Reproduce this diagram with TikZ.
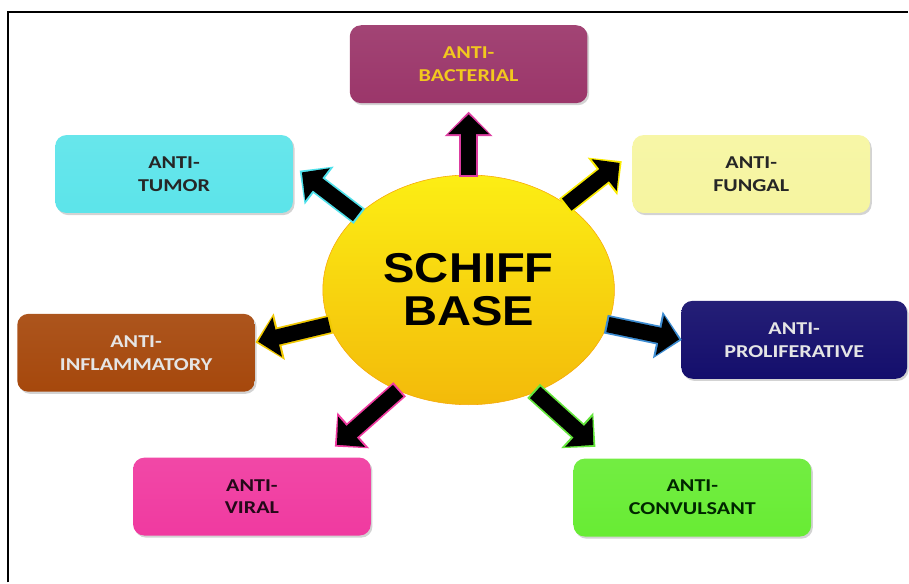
\documentclass[tikz,border=0pt]{standalone}
\usepackage{fontspec}
\usepackage{tikz}
\usetikzlibrary{arrows.meta,shapes,shadows,calc}
\newfontfamily\kastenfont[FakeStretch=1.22]{Carlito}
\newfontfamily\kreisfont[FakeStretch=1.13]{Liberation Sans}
\definecolor{pflaume}{RGB}{155,54,106}
\definecolor{tuerkis}{RGB}{92,228,234}
\definecolor{gelbHell}{RGB}{246,245,160}
\definecolor{braun}{RGB}{166,72,12}
\definecolor{marine}{RGB}{20,14,108}
\definecolor{rosa}{RGB}{240,58,160}
\definecolor{gruenHell}{RGB}{104,236,52}
\definecolor{goldText}{RGB}{242,200,30}
\definecolor{kreisOben}{RGB}{252,238,20}
\definecolor{kreisUnten}{RGB}{243,186,10}
\definecolor{magentaRand}{RGB}{220,60,160}
\definecolor{cyanRand}{RGB}{80,225,235}
\definecolor{gelbRand}{RGB}{250,235,0}
\definecolor{goldRand}{RGB}{240,200,0}
\definecolor{blauRand}{RGB}{60,140,210}
\definecolor{gruenRand}{RGB}{100,230,60}
\tikzstyle{kasten} = [rectangle,rounded corners=8pt,minimum width=5.95cm,minimum height=1.95cm,align=center,font=\kastenfont\bfseries\fontsize{12.9}{16.3}\selectfont,drop shadow={shadow xshift=1.2pt,shadow yshift=-1.5pt,opacity=0.35}]
\tikzset{pfeil/.style 2 args={draw=black,line width=11pt,-{Triangle[length=14pt,width=28pt]},shorten >=#2,preaction={draw=#1,line width=13.5pt,-{Triangle[length=17.5pt,width=33pt]},shorten >=#2-2pt,shorten <=-1.5pt}}}

\begin{document}
\begin{tikzpicture}
\draw[white] (0,0) rectangle (22.725,14.575);
\draw[line width=1.4pt] (0.200,0.000) -- (0.200,14.275) -- (22.725,14.275);
\node[kasten,top color=pflaume!93!white,bottom color=pflaume,text=goldText] (bakt) at (11.725,12.975) {ANTI-\\BACTERIAL};
\node[kasten,top color=tuerkis!93!white,bottom color=tuerkis,text=black!85] (tumor) at (4.350,10.225) {ANTI-\\TUMOR};
\node[kasten,top color=gelbHell!93!white,bottom color=gelbHell,text=black!85] (pilz) at (18.800,10.225) {ANTI-\\FUNGAL};
\node[kasten,top color=braun!93!white,bottom color=braun,text=white!90!black] (entz) at (3.400,5.750) {ANTI-\\INFLAMMATORY};
\node[kasten,minimum width=5.65cm,top color=marine!93!white,bottom color=marine,text=white!90!black] (prolif) at (19.875,6.075) {ANTI-\\PROLIFERATIVE};
\node[kasten,top color=rosa!93!white,bottom color=rosa,text=black!85!rosa] (viral) at (6.300,2.150) {ANTI-\\VIRAL};
\node[kasten,top color=gruenHell!93!white,bottom color=gruenHell,text=black!85!green] (konv) at (17.325,2.125) {ANTI-\\CONVULSANT};
\node[ellipse,minimum width=7.3cm,minimum height=5.75cm,inner sep=0pt,top color=kreisOben,bottom color=kreisUnten,draw=kreisUnten!70!orange,thin,align=center,font=\kreisfont\bfseries\fontsize{29.7}{30.5}\selectfont] (schiff) at (11.725,7.325) {SCHIFF\\BASE};
\draw[pfeil={magentaRand}{0.275cm}] (schiff.north) -- (bakt.south);
\draw[pfeil={cyanRand}{0.275cm}] (schiff.146) -- (tumor.4);
\draw[pfeil={gelbRand}{0.4cm}] (schiff.41) -- (pilz.170);
\draw[pfeil={goldRand}{0.075cm}] (schiff.194) -- (entz.5);
\draw[pfeil={blauRand}{0.05cm}] (schiff.346) -- (prolif.west);
\draw[pfeil={rosa}{0.475cm}] (schiff.235) -- (viral.29);
\draw[pfeil={gruenRand}{0.5cm}] (schiff.303) -- (konv.155);
\end{tikzpicture}
\end{document}
